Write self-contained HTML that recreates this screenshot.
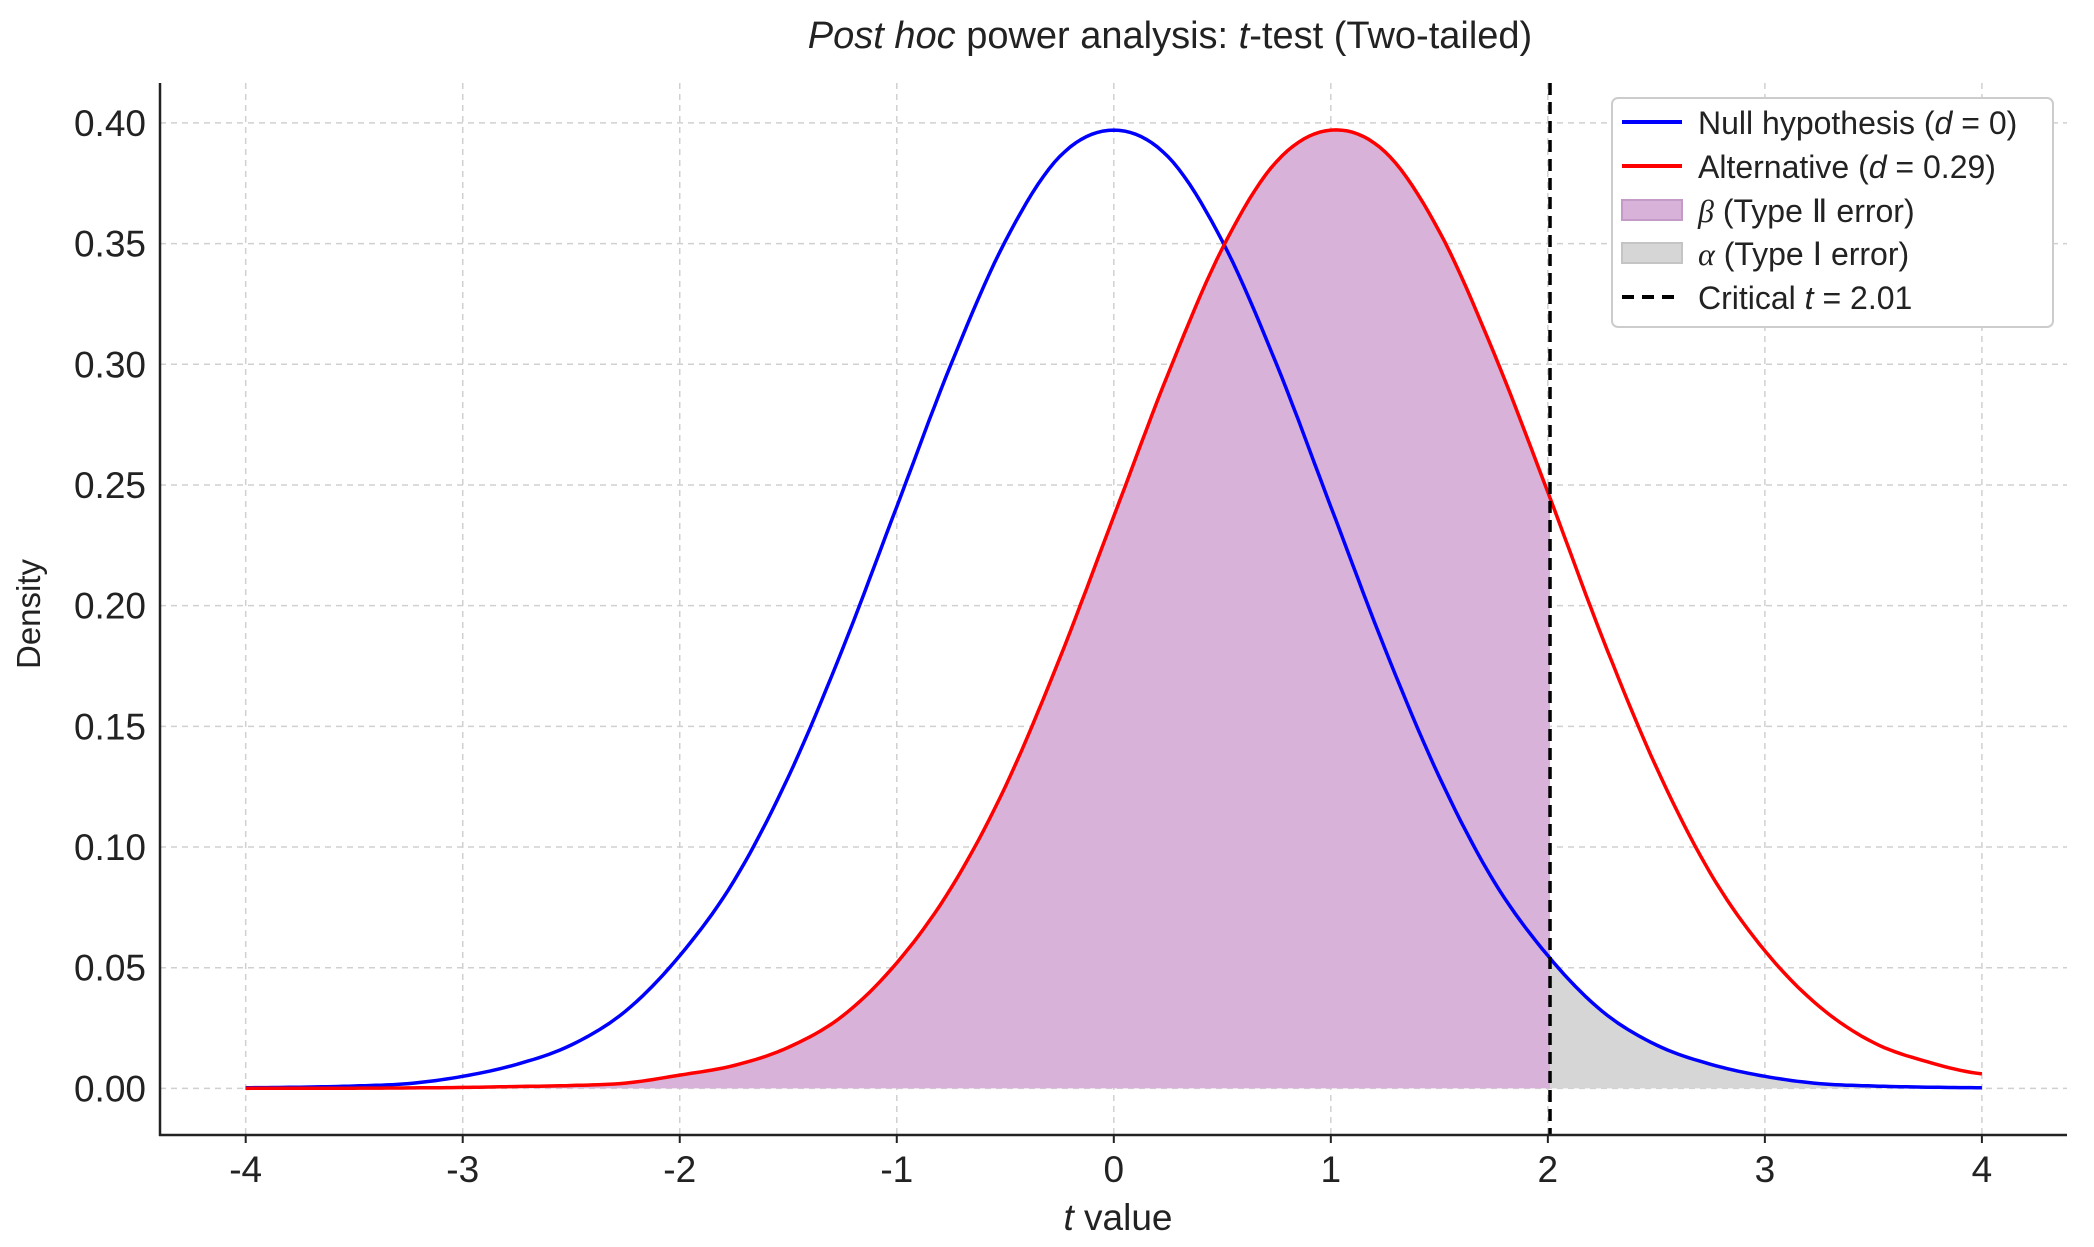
<!DOCTYPE html>
<html><head><meta charset="utf-8"><style>
html,body{margin:0;padding:0;background:#fff}
svg{display:block;font-family:"Liberation Sans",sans-serif}
</style></head><body>
<svg id="chart" width="2094" height="1247" viewBox="0 0 2094 1247">
<defs><clipPath id="clipBeta"><rect id="cbRect" x="0" y="0" width="10" height="1247"/></clipPath>
<clipPath id="clipAlpha"><rect id="caRect" x="0" y="0" width="10" height="1247"/></clipPath></defs>
<g id="grid"></g>
<g id="fills"></g>
<g id="lines"></g>
<g id="axes"></g>
<text x="1170" y="48" text-anchor="middle" font-size="38" fill="#222"><tspan font-style="italic">Post hoc</tspan> power analysis: <tspan font-style="italic">t</tspan>-test (Two-tailed)</text>
<text x="1118" y="1230" text-anchor="middle" font-size="37" fill="#222"><tspan font-style="italic">t</tspan> value</text>
<text transform="translate(40,614) rotate(-90)" text-anchor="middle" font-size="33" fill="#222">Density</text>
<g>
<rect x="1612" y="98" width="441" height="229" rx="6" fill="#fff" stroke="#ccc" stroke-width="2"/>
<g><line x1="1622" y1="122" x2="1682" y2="122" stroke="#0000ff" stroke-width="4"/><text x="1698" y="134" font-size="32" fill="#222">Null hypothesis (<tspan font-style="italic">d</tspan> = 0)</text></g>
<g><line x1="1622" y1="166" x2="1682" y2="166" stroke="#ff0000" stroke-width="4"/><text x="1698" y="178" font-size="32" fill="#222">Alternative (<tspan font-style="italic">d</tspan> = 0.29)</text></g>
<g><rect x="1622" y="200" width="60" height="20" fill="#d8b2d8" stroke="#c49ac6" stroke-width="2"/><text x="1698" y="222" font-size="32" fill="#222"><tspan font-style="italic" font-family="Liberation Serif">β</tspan> (Type Ⅱ error)</text></g>
<g><rect x="1622" y="243" width="60" height="20" fill="#d6d6d6" stroke="#c4c4c4" stroke-width="2"/><text x="1698" y="265" font-size="32" fill="#222"><tspan font-style="italic" font-family="Liberation Serif">α</tspan> (Type Ⅰ error)</text></g>
<g><line x1="1622" y1="297" x2="1682" y2="297" stroke="#000" stroke-width="4" stroke-dasharray="12,8"/><text x="1698" y="309" font-size="32" fill="#222">Critical <tspan font-style="italic">t</tspan> = 2.01</text></g>
</g>
</svg>
<script>
const xGrid = [-4,-3.75,-3.5,-3.25,-3,-2.75,-2.5,-2.25,-2,-1.75,-1.5,-1.25,-1,-0.75,-0.5,-0.25,0,0.25,0.5,0.75,1,1.25,1.5,1.75,2,2.25,2.5,2.75,3,3.25,3.5,3.75,4];
const nullDensity = [0.0003,0.0005,0.001,0.002,0.005,0.010,0.018,0.032,0.055,0.086,0.129,0.182,0.241,0.300,0.351,0.386,0.397,0.386,0.351,0.300,0.241,0.182,0.129,0.086,0.055,0.032,0.018,0.010,0.005,0.002,0.001,0.0005,0.0003];
const altDensity = [0.00002,0.00005,0.0001,0.0002,0.0004,0.0008,0.0012,0.0022,0.0055,0.0095,0.017,0.030,0.052,0.083,0.125,0.178,0.237,0.296,0.348,0.384,0.397,0.388,0.355,0.305,0.247,0.187,0.133,0.089,0.057,0.034,0.019,0.011,0.006];
const criticalT = 2.01;
const xTicks = [-4,-3,-2,-1,0,1,2,3,4];
const yTicks = [0,0.05,0.10,0.15,0.20,0.25,0.30,0.35,0.40];
const yTickLabels = ["0.00","0.05","0.10","0.15","0.20","0.25","0.30","0.35","0.40"];

const NS='http://www.w3.org/2000/svg';
const X0=245.7,X1=1981.9,Y0=1088.4,Y1=122.9;
const xs=v=>X0+(v+4)/8*(X1-X0);
const ys=v=>Y0+v/0.40*(Y1-Y0);
function mk(tag,attrs,parent){const e=document.createElementNS(NS,tag);for(const k in attrs)e.setAttribute(k,attrs[k]);parent.appendChild(e);return e;}
const grid=document.getElementById('grid'),axes=document.getElementById('axes'),fills=document.getElementById('fills'),lines=document.getElementById('lines');

xTicks.forEach(t=>{
  const g=mk('line',{x1:xs(t),x2:xs(t),y1:83,y2:1135,stroke:'#d0d0d0','stroke-width':1.5,'stroke-dasharray':'6,5'},grid);
  
  
  const tk=mk('line',{x1:xs(t),x2:xs(t),y1:1135,y2:1143,stroke:'#222','stroke-width':2},axes);
  
  
  const lb=mk('text',{x:xs(t),y:1182,'text-anchor':'middle','font-size':37,fill:'#222'},axes);
  lb.textContent=String(t);
  
  
});
yTicks.forEach((t,i)=>{
  const g=mk('line',{x1:160,x2:2067,y1:ys(t),y2:ys(t),stroke:'#d0d0d0','stroke-width':1.5,'stroke-dasharray':'6,5'},grid);
  
  
  const lb=mk('text',{x:146,y:ys(t)+13,'text-anchor':'end','font-size':37,fill:'#222'},axes);
  lb.textContent=yTickLabels[i];
  
  
});
const ls=mk('line',{x1:160,x2:160,y1:83,y2:1136,stroke:'#222','stroke-width':2.5},axes);


const bs=mk('line',{x1:159,x2:2067,y1:1135,y2:1135,stroke:'#222','stroke-width':2.5},axes);



function curvePts(ys_){const pts=[];const n=xGrid.length;
  for(let i=0;i<n-1;i++){const p0=ys_[Math.max(0,i-1)],p1=ys_[i],p2=ys_[i+1],p3=ys_[Math.min(n-1,i+2)];
    for(let s=0;s<10;s++){const t=s/10;const v=0.5*((2*p1)+(-p0+p2)*t+(2*p0-5*p1+4*p2-p3)*t*t+(-p0+3*p1-3*p2+p3)*t*t*t);
      pts.push([xGrid[i]+(xGrid[i+1]-xGrid[i])*t,Math.max(0,v)]);}}
  pts.push([xGrid[n-1],ys_[n-1]]);return pts;}
const nullPts=curvePts(nullDensity),altPts=curvePts(altDensity);
const lineD=p=>p.map((q,i)=>(i?'L':'M')+xs(q[0]).toFixed(1)+','+ys(q[1]).toFixed(1)).join('');
const areaD=p=>lineD(p)+'L'+xs(p[p.length-1][0])+','+ys(0)+'L'+xs(p[0][0])+','+ys(0)+'Z';

document.getElementById('cbRect').setAttribute('x',xs(-4));
document.getElementById('cbRect').setAttribute('width',xs(criticalT)-xs(-4));
document.getElementById('caRect').setAttribute('x',xs(criticalT));
document.getElementById('caRect').setAttribute('width',xs(4)-xs(criticalT));
const beta=mk('path',{d:areaD(altPts),fill:'#d8b2d8','clip-path':'url(#clipBeta)'},fills);


const alpha=mk('path',{d:areaD(nullPts),fill:'#d6d6d6','clip-path':'url(#clipAlpha)'},fills);


const nl=mk('path',{d:lineD(nullPts),fill:'none',stroke:'#0000ff','stroke-width':3.5},lines);


const al=mk('path',{d:lineD(altPts),fill:'none',stroke:'#ff0000','stroke-width':3.5},lines);


const cl=mk('line',{x1:xs(criticalT),x2:xs(criticalT),y1:83,y2:1135,stroke:'#000','stroke-width':3.5,'stroke-dasharray':'12,7'},lines);


</script>
</body></html>
